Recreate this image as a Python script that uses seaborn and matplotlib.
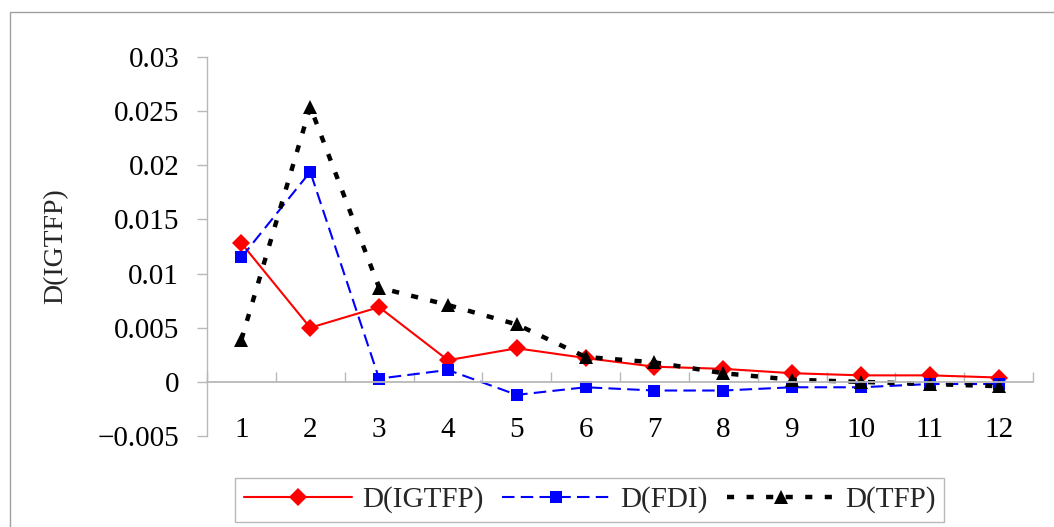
import numpy as np
import pandas as pd
import matplotlib
matplotlib.use("Agg")
import matplotlib.pyplot as plt
import seaborn as sns
from matplotlib.patches import Rectangle
from matplotlib.ticker import FixedLocator, FixedFormatter

periods = [1, 2, 3, 4, 5, 6, 7, 8, 9, 10, 11, 12]
d_igtfp = [0.0128, 0.0050, 0.0069, 0.0020, 0.0031, 0.0022, 0.0014, 0.0012, 0.0008, 0.0006, 0.0006, 0.0004]
d_fdi = [0.0115, 0.0194, 0.0003, 0.0011, -0.0012, -0.0005, -0.0008, -0.0008, -0.0005, -0.0005, -0.0002, -0.0002]
d_tfp = [0.0039, 0.0254, 0.0087, 0.0071, 0.0053, 0.0023, 0.0018, 0.0008, 0.0002, 0.0000, -0.0002, -0.0004]
series_names = ["D(IGTFP)", "D(FDI)", "D(TFP)"]
y_label = "D(IGTFP)"
y_ticks = [-0.005, 0.0, 0.005, 0.01, 0.015, 0.02, 0.025, 0.03]
y_tick_labels = ["−0.005", "0", "0.005", "0.01", "0.015", "0.02", "0.025", "0.03"]

sns.set_theme(style="white")
plt.rcParams["font.family"] = ["Liberation Serif", "Noto Sans CJK SC", "DejaVu Sans"]

fig = plt.figure(figsize=(10.54, 5.27), dpi=100)
ax = fig.add_axes([207 / 1054, 1 - 436 / 527, 826 / 1054, 379 / 527])

df = pd.DataFrame({"x": periods, "a": d_igtfp, "b": d_fdi, "c": d_tfp})

sns.lineplot(data=df, x="x", y="a", ax=ax, color="#ff0000", linewidth=1.5,
             marker="D", markersize=9, markeredgewidth=0, label=series_names[0])
sns.lineplot(data=df, x="x", y="b", ax=ax, color="#0000ff", linewidth=1.5,
             linestyle=(0, (6, 3)), marker="s", markersize=8.5, markeredgewidth=0,
             label=series_names[1])
sns.lineplot(data=df, x="x", y="c", ax=ax, color="#000000", linewidth=3.2,
             linestyle=(0, (1.6, 2.8)), marker="^", markersize=10, markeredgewidth=0,
             label=series_names[2])

gray = "#b8b8b8"
ax.set_xlim(0.5, 12.5)
ax.set_ylim(-0.005, 0.03)
for s in ["top", "right"]:
    ax.spines[s].set_visible(False)
ax.spines["bottom"].set_position(("data", 0))
ax.spines["bottom"].set_color(gray)
ax.spines["left"].set_color(gray)
ax.spines["bottom"].set_linewidth(1.3)
ax.spines["left"].set_linewidth(1.0)

ax.set_xticks(periods)
ax.set_xticklabels([str(p) for p in periods])
ax.xaxis.set_minor_locator(FixedLocator(np.arange(0.5, 13.0, 1.0)))
ax.tick_params(axis="x", which="major", length=0, pad=25, labelsize=21, labelcolor="black")
ax.tick_params(axis="x", which="minor", direction="in", length=7, width=1, color=gray, bottom=True)

ax.yaxis.set_major_locator(FixedLocator(y_ticks))
ax.yaxis.set_major_formatter(FixedFormatter(y_tick_labels))
ax.tick_params(axis="y", which="major", direction="out", length=7, width=1, color=gray,
               pad=13, labelsize=21, labelcolor="black", left=True)

ax.set_xlabel("")
ax.set_ylabel(y_label, fontsize=20)
ax.yaxis.set_label_coords(-0.168, 0.5)

if ax.legend_:
    ax.legend_.remove()
handles, labels = ax.get_legend_handles_labels()
leg = fig.legend(handles, labels, loc="center", bbox_to_anchor=(589.5 / 1054, 27 / 527),
                 ncol=3, frameon=True, fancybox=False, framealpha=1, edgecolor=gray,
                 fontsize=21, handlelength=3.7, handletextpad=0.35, columnspacing=0.65,
                 borderpad=0.3)
leg.get_frame().set_linewidth(1.0)

fig.patches.append(Rectangle((10 / 1054, -0.1), 1.2, 1 - 12 / 527 + 0.1,
                             transform=fig.transFigure, fill=False,
                             edgecolor="#a0a0a0", linewidth=1.0))

fig.savefig("out.png", dpi=100)
